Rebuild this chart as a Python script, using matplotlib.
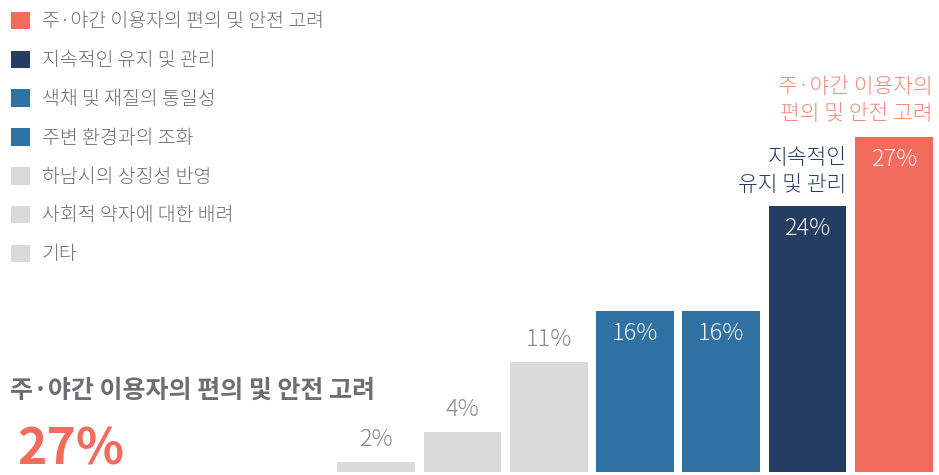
import matplotlib
matplotlib.use('Agg')
import matplotlib.pyplot as plt
from matplotlib.patches import Patch

# the CJK collection registers under the JP name; it has the Hangul glyphs and a light weight
plt.rcParams['font.family'] = ['Noto Sans CJK JP', 'DejaVu Sans']

CORAL = '#F26B5C'
NAVY = '#253C63'
BLUE = '#2F71A3'
GRAY = '#D9D9D9'
TEXT = '#6D6E71'

categories = ['주·야간 이용자의 편의 및 안전 고려', '지속적인 유지 및 관리', '색채 및 재질의 통일성',
              '주변 환경과의 조화', '하남시의 상징성 반영', '사회적 약자에 대한 배려', '기타']
legend_colors = [CORAL, NAVY, BLUE, BLUE, GRAY, GRAY, GRAY]

# bars left to right (smallest first)
bar_labels = ['2%', '4%', '11%', '16%', '16%', '24%', '27%']
bar_heights = [1.0, 4.0, 11.0, 16.1, 16.1, 26.6, 33.5]
bar_colors = [GRAY, GRAY, GRAY, BLUE, BLUE, NAVY, CORAL]
label_inside = [False, False, False, True, True, True, True]

W, H = 939, 475
fig = plt.figure(figsize=(W / 100, H / 100), dpi=100)

# bar axes
ax = fig.add_axes([333 / W, 3 / H, 604 / W, 350 / H])
ax.set_xlim(-0.5, 6.5)
ax.set_ylim(0, 35)
ax.axis('off')
x = range(len(bar_heights))
bars = ax.bar(x, bar_heights, width=0.9, color=bar_colors)
for b, lab, inside in zip(bars, bar_labels, label_inside):
    cx = b.get_x() + b.get_width() / 2
    top = b.get_height()
    if inside:
        ax.annotate(lab, (cx, top), xytext=(0, -22), textcoords='offset pixels',
                    ha='center', va='center', fontsize=17, fontweight=300,
                    color='#F2F2F2')
    else:
        ax.annotate(lab, (cx, top), xytext=(0, 22), textcoords='offset pixels',
                    ha='center', va='center', fontsize=17, fontweight=300,
                    color='#8A8A8A')

# callouts over the two tallest bars
ax.annotate('주·야간 이용자의\n편의 및 안전 고려', (6.45, bar_heights[6]), xytext=(0, 12),
            textcoords='offset pixels', ha='right', va='bottom', fontsize=15.5,
            fontweight=300, color='#F58A7E', linespacing=1.3)
ax.annotate('지속적인\n유지 및 관리', (5.45, bar_heights[5]), xytext=(0, 10),
            textcoords='offset pixels', ha='right', va='bottom', fontsize=15.5,
            fontweight=300, color=NAVY, linespacing=1.3)

# legend
handles = [Patch(facecolor=c, edgecolor='none') for c in legend_colors]
fig.legend(handles, categories, loc='upper left', bbox_to_anchor=(11 / W, 1 - 11 / H),
           frameon=False, handlelength=1.0, handleheight=1.0,
           handletextpad=0.6, labelspacing=0.92, borderpad=0, borderaxespad=0,
           labelcolor=TEXT, prop={'family': 'Noto Sans CJK JP', 'size': 14, 'weight': 300})

# headline at bottom left
fig.text(10 / W, 1 - 391 / H, categories[0], fontsize=18, fontweight='bold',
         color=TEXT, va='center', ha='left')
fig.text(17 / W, 1 - 450 / H, bar_labels[-1], fontsize=36, fontweight='bold',
         color=CORAL, va='center', ha='left')

fig.savefig('out.png', dpi=100)
